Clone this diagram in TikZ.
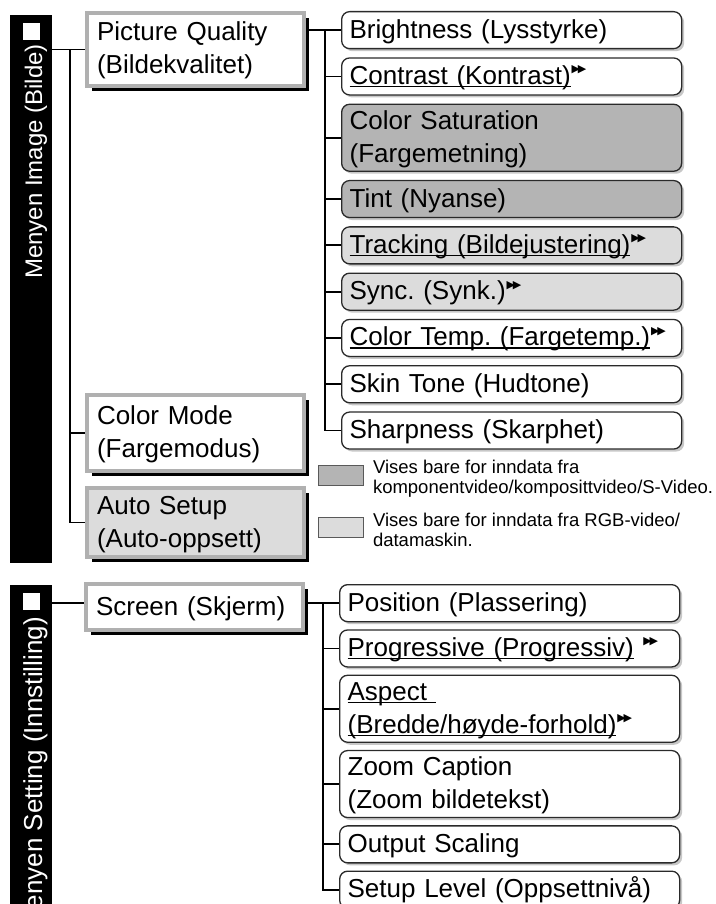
\documentclass[tikz,border=0pt]{standalone}
\usepackage{fontspec}
\setmainfont{Liberation Sans}
\newfontfamily\symfont{DejaVu Sans}
\usepackage{tikz}
\usetikzlibrary{positioning,shadows}
\definecolor{shadedark}{HTML}{B4B4B4}
\definecolor{shadelight}{HTML}{DCDCDC}
\definecolor{rim}{HTML}{B0B0B0}
\definecolor{edge}{HTML}{2A2A2A}
\newcommand\boxfont{\fontsize{26}{33}\selectfont}
\newcommand\titlefont{\fontsize{24}{28}\selectfont}
\newcommand\legendfont{\fontsize{18.5}{20}\selectfont}
\newcommand\bxstrut{\rule[-8pt]{0pt}{32pt}}
\newcommand\uln[1]{\leavevmode\sbox0{#1}\rlap{\rule[-2.6pt]{\wd0}{1.2pt}}\usebox0}
\newcommand\nxt{\kern1pt\raisebox{11.5pt}{\symfont\fontsize{11}{11}\selectfont ▶\kern-2.2pt▶}}
\frenchspacing
\tikzset{
  menubar/.style={
    rectangle, fill=black, minimum width=42pt,
    inner sep=0pt, anchor=north west
  },
  barsquare/.style={
    rectangle, fill=white, minimum size=17pt, inner sep=0pt
  },
  bartitle/.style={
    rotate=90, text=white, font=\titlefont,
    inner sep=0pt, anchor=base east
  },
  groupbox/.style={
    rectangle, draw=rim, fill=#1, line width=4pt,
    minimum width=217pt, text width=197pt,
    inner xsep=10pt, inner ysep=2pt,
    font=\boxfont, align=left, anchor=north west,
    drop shadow={shadow xshift=5pt, shadow yshift=-5pt, fill=black, opacity=1},
    execute at begin node=\bxstrut, execute at end node=\bxstrut
  },
  groupbox/.default=white,
  itembox/.style={
    rectangle, rounded corners=8pt, draw=edge, fill=#1, line width=1.3pt,
    minimum height=37pt, text width=324pt,
    inner xsep=8pt, inner ysep=1pt,
    font=\boxfont, align=left,
    drop shadow={shadow xshift=2.5pt, shadow yshift=-2.5pt, fill=black!22, opacity=1},
    execute at begin node=\bxstrut, execute at end node=\bxstrut
  },
  itembox/.default=white,
  tallbox/.style={itembox=#1, minimum height=67pt},
  tallbox/.default=white,
  link/.style={draw=black, line width=1.8pt},
  % ── legend ──
  swatch/.style={
    rectangle, draw=black!65, fill=#1, line width=0.8pt,
    minimum width=45pt, minimum height=20pt,
    inner sep=0pt, anchor=north west
  },
  legendtext/.style={font=\legendfont, align=left, inner sep=0pt},
}

\begin{document}
\begin{tikzpicture}[x=1pt, y=-1pt]
  \useasboundingbox (0,0) rectangle (715,904);

  % ── Menyen Image ──
  \node[menubar, minimum height=548pt] (bar1) at (10,15) {};
  \node[barsquare, below=8pt of bar1.north] (sq1) {};
  \node[bartitle] (title1) at (42,44) {Menyen Image (Bilde)};

  \node[groupbox, minimum height=73pt] (pq) at (85,11) {Picture Quality\\(Bildekvalitet)};
  \node[groupbox, minimum height=76pt] (cm) at (85,393) {Color Mode\\(Fargemodus)};
  \node[groupbox=shadelight, minimum height=68pt] (as) at (85,486) {Auto Setup\\(Auto-oppsett)};

  \node[itembox, anchor=north west] (br) at (341,11) {Brightness (Lysstyrke)};
  \node[itembox, below=8pt of br] (ct) {\uln{Contrast (Kontrast)}\nxt};
  \node[tallbox=shadedark, below=8pt of ct] (cs) {Color Saturation\\(Fargemetning)};
  \node[itembox=shadedark, below=8pt of cs] (ti) {Tint (Nyanse)};
  \node[itembox=shadelight, below=8pt of ti] (tr) {\uln{Tracking (Bildejustering)}\nxt};
  \node[itembox=shadelight, below=8pt of tr] (sy) {Sync. (Synk.)\nxt};
  \node[itembox, below=8pt of sy] (tp) {\uln{Color Temp. (Fargetemp.)}\nxt};
  \node[itembox, below=8pt of tp] (sk) {Skin Tone (Hudtone)};
  \node[itembox, below=8pt of sk] (sp) {Sharpness (Skarphet)};

  \draw[link] (bar1.east |- pq.west) -- (pq.west);
  \draw[link] (70,0 |- pq.west) |- (as.west);
  \draw[link] (70,0 |- cm.west) -- (cm.west);

  \draw[link] (pq.east |- br.west) -- (br.west);
  \draw[link] (325,0 |- br.west) |- (sp.west);
  \draw[link] (325,0 |- ct.west) -- (ct.west);
  \draw[link] (325,0 |- cs.west) -- (cs.west);
  \draw[link] (325,0 |- ti.west) -- (ti.west);
  \draw[link] (325,0 |- tr.west) -- (tr.west);
  \draw[link] (325,0 |- sy.west) -- (sy.west);
  \draw[link] (325,0 |- tp.west) -- (tp.west);
  \draw[link] (325,0 |- sk.west) -- (sk.west);

  % ── legend ──
  \node[swatch=shadedark] (sw1) at (318,465) {};
  \node[legendtext, right=9pt of sw1, yshift=-3pt] (lg1) {Vises bare for inndata fra\\komponentvideo/komposittvideo/S-Video.};
  \node[swatch=shadelight] (sw2) at (318,517) {};
  \node[legendtext, right=9pt of sw2, yshift=-2pt] (lg2) {Vises bare for inndata fra RGB-video/\\datamaskin.};

  % ── Menyen Setting ──
  \node[menubar, minimum height=340pt] (bar2) at (10,585) {};
  \node[barsquare, below=8pt of bar2.north] (sq2) {};
  \node[bartitle, font=\fontsize{26}{30}\selectfont] (title2) at (42,617) {Menyen Setting (Innstilling)};

  \node[groupbox, minimum height=46pt] (sc) at (84,582) {Screen (Skjerm)};

  \node[itembox, anchor=north west] (po) at (339,584) {Position (Plassering)};
  \node[itembox, below=7pt of po] (pr) {\uln{Progressive (Progressiv)} \nxt};
  \node[tallbox, below=7pt of pr] (asp) {\uln{Aspect\ }\\\uln{(Bredde/høyde-forhold)}\nxt};
  \node[tallbox, below=7pt of asp] (zc) {Zoom Caption\\(Zoom bildetekst)};
  \node[itembox, below=7pt of zc] (os) {Output Scaling};
  \node[itembox, below=7pt of os] (sl) {Setup Level (Oppsettnivå)};

  \draw[link] (bar2.east |- po.west) -- (sc.west |- po.west);
  \draw[link] (sc.east |- po.west) -- (po.west);
  \draw[link] (323,0 |- po.west) |- (sl.west);
  \draw[link] (323,0 |- pr.west) -- (pr.west);
  \draw[link] (323,0 |- asp.west) -- (asp.west);
  \draw[link] (323,0 |- zc.west) -- (zc.west);
  \draw[link] (323,0 |- os.west) -- (os.west);
\end{tikzpicture}
\end{document}
